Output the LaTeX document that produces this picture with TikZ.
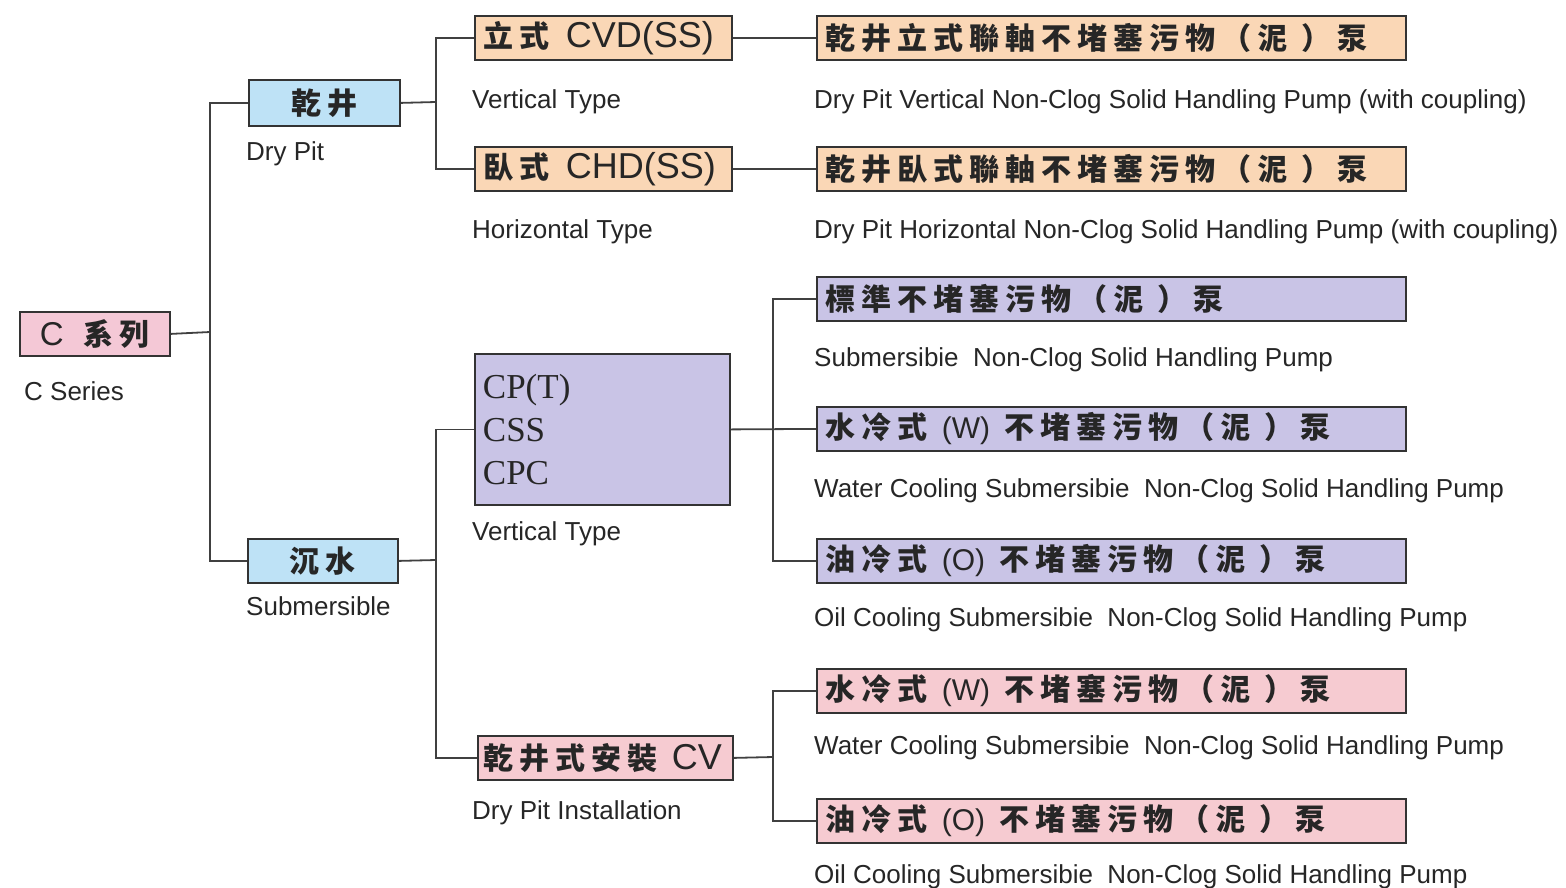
\documentclass[tikz,border=0pt]{standalone}
\usepackage{fontspec}
\setmainfont{Liberation Sans}
\newfontfamily\cjk[LetterSpace=20]{Noto Sans CJK TC}
\newfontfamily\serifc{Liberation Serif}
\definecolor{seriespink}{RGB}{244,200,214}
\definecolor{pitblue}{RGB}{190,226,246}
\definecolor{peach}{RGB}{250,215,182}
\definecolor{lilac}{RGB}{201,196,230}
\definecolor{rose}{RGB}{246,203,209}
\newcommand{\mud}{（泥\hspace{14pt}）}
\tikzset{
  box/.style={draw=black!80, line width=1.8pt, anchor=north west, inner xsep=9pt, inner ysep=0pt,
    minimum height=44pt, align=left, text=black!85, font=\fontsize{30}{32}\selectfont},
  lab/.style={anchor=base west, inner sep=0pt, text=black!85, font=\fontsize{26}{26}\selectfont},
  link/.style={draw=black!75, line width=1.8pt},
}
\begin{document}
\begin{tikzpicture}[x=1pt,y=-1pt]
  \useasboundingbox (0,0) rectangle (1566,887);

  % root and first level
  \node[box, fill=seriespink, text width=132pt, align=center] (series) at (19,311) {{\fontsize{33}{33}\selectfont C}\hspace{20pt}{\cjk\bfseries 系列}};
  \node[lab] at (24,400) {C Series};
  \node[box, fill=pitblue, text width=133pt, minimum height=46pt, align=center] (drypit) at (248,79) {\cjk\bfseries 乾井};
  \node[lab] at (246,160) {Dry Pit};
  \node[box, fill=pitblue, text width=132pt, align=center] (sub) at (247,538) {\cjk\bfseries 沉水};
  \node[lab] at (246,615) {Submersible};

  % dry pit types
  \node[box, fill=peach, text width=239pt] (cvd) at (474,15) {{\cjk\bfseries 立式}\hspace{16pt}{\fontsize{36}{36}\selectfont CVD(SS)}};
  \node[lab] at (472,108) {Vertical Type};
  \node[box, fill=peach, text width=239pt] (chd) at (474,146) {{\cjk\bfseries 臥式}\hspace{16pt}{\fontsize{36}{36}\selectfont CHD(SS)}};
  \node[lab] at (472,238) {Horizontal Type};
  \node[box, fill=peach, text width=571pt] (cvdpump) at (816,15) {\cjk\bfseries 乾井立式聯軸不堵塞污物\mud 泵};
  \node[lab] at (814,108) {Dry Pit Vertical Non-Clog Solid Handling Pump (with coupling)};
  \node[box, fill=peach, text width=571pt] (chdpump) at (816,146) {\cjk\bfseries 乾井臥式聯軸不堵塞污物\mud 泵};
  \node[lab] at (814,238) {Dry Pit Horizontal Non-Clog Solid Handling Pump (with coupling)};

  % submersible types
  \node[box, fill=lilac, text width=239pt, minimum height=151pt, inner xsep=8pt,
    font=\serifc\fontsize{35}{43}\selectfont] (cpt) at (474,353) {CP(T)\\CSS\\CPC};
  \node[lab] at (472,540) {Vertical Type};
  \node[box, fill=rose, text width=247pt, inner xsep=4pt] (cv) at (477,735) {\hspace{2pt}{\cjk\bfseries 乾井式安裝}\hspace{14pt}{\fontsize{36}{36}\selectfont CV}};
  \node[lab] at (472,819) {Dry Pit Installation};

  \node[box, fill=lilac, text width=571pt] (stdpump) at (816,276) {\cjk\bfseries 標準不堵塞污物\mud 泵};
  \node[lab] at (814,366) {Submersibie\ \ Non-Clog Solid Handling Pump};
  \node[box, fill=lilac, text width=571pt] (waterpump) at (816,406) {{\cjk\bfseries 水冷式}\hspace{14pt}(W)\hspace{14pt}{\cjk\bfseries 不堵塞污物\mud 泵}};
  \node[lab] at (814,497) {Water Cooling Submersibie\ \ Non-Clog Solid Handling Pump};
  \node[box, fill=lilac, text width=571pt] (oilpump) at (816,538) {{\cjk\bfseries 油冷式}\hspace{14pt}(O)\hspace{14pt}{\cjk\bfseries 不堵塞污物\mud 泵}};
  \node[lab] at (814,626) {Oil Cooling Submersibie\ \ Non-Clog Solid Handling Pump};

  \node[box, fill=rose, text width=571pt] (cvwater) at (816,668) {{\cjk\bfseries 水冷式}\hspace{14pt}(W)\hspace{14pt}{\cjk\bfseries 不堵塞污物\mud 泵}};
  \node[lab] at (814,754) {Water Cooling Submersibie\ \ Non-Clog Solid Handling Pump};
  \node[box, fill=rose, text width=571pt] (cvoil) at (816,798) {{\cjk\bfseries 油冷式}\hspace{14pt}(O)\hspace{14pt}{\cjk\bfseries 不堵塞污物\mud 泵}};
  \node[lab] at (814,883) {Oil Cooling Submersibie\ \ Non-Clog Solid Handling Pump};

  % connectors
  \coordinate (trunk) at (210,332);
  \coordinate (pitbus) at (436,102);
  \coordinate (subbus) at (436,560);
  \coordinate (cptbus) at (773,428);
  \coordinate (cvbus) at (773,757);
  \draw[link] (series.east) -- (trunk);
  \draw[link] (drypit.west) -| (trunk) |- (sub.west);
  \draw[link] (drypit.east) -- (pitbus);
  \draw[link] (cvd.west) -| (pitbus) |- (chd.west);
  \draw[link] (cvd.east) -- (cvdpump.west);
  \draw[link] (chd.east) -- (chdpump.west);
  \draw[link] (sub.east) -- (subbus);
  \draw[link] (cpt.west) -| (subbus) |- (cv.west);
  \draw[link] (cpt.east) -- (waterpump.west);
  \draw[link] (stdpump.west) -| (cptbus) |- (oilpump.west);
  \draw[link] (cv.east) -- (cvbus);
  \draw[link] (cvwater.west) -| (cvbus) |- (cvoil.west);
\end{tikzpicture}
\end{document}
